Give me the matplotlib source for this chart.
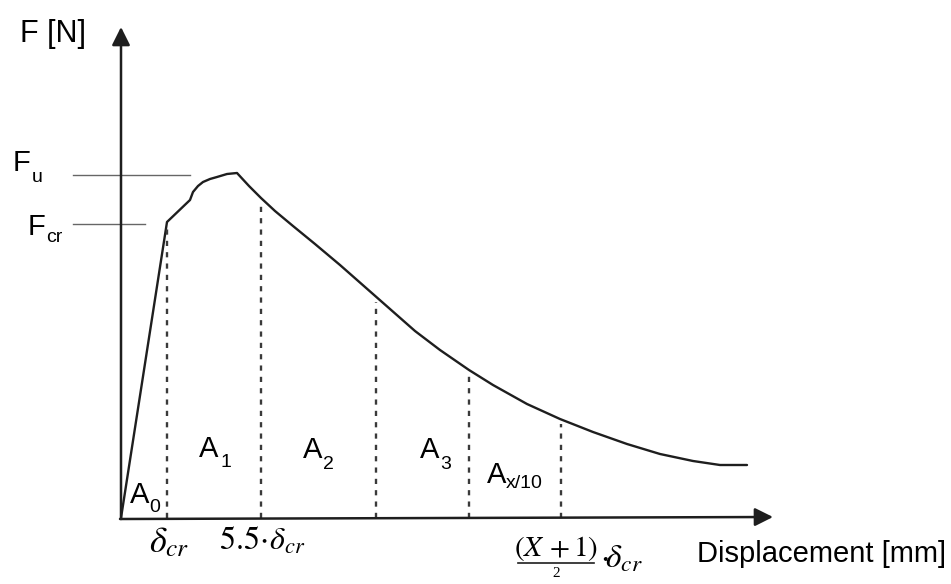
import matplotlib
matplotlib.use("Agg")
import matplotlib.pyplot as plt

plt.rcParams["mathtext.fontset"] = "stix"

# Load-displacement curve (schematic units)
disp = [0, 46, 69, 72, 77, 82, 89, 96, 106, 116, 128, 140, 154, 172, 194,
        219, 244, 269, 294, 319, 348, 372, 406, 439, 472, 506, 539, 572,
        599, 626]
force = [0, 296, 318, 326, 332, 336, 339, 341, 344, 345, 332, 320, 307, 292,
         274, 253, 231, 209, 187, 168, 148, 133, 114, 99, 86, 74, 64, 57,
         53, 53]

# Boundaries of the energy intervals
boundary_x = [46, 140, 255, 348, 440]
boundary_top = [296, 320, 221, 148, 99]

# Reference force levels
F_u = 343
F_cr = 294

# Interval labels: main letter, subscript
area_main = ["A", "A", "A", "A", "A"]
area_sub = ["0", "1", "2", "3", "x/10"]
area_x = [9, 78, 182, 299, 366]
area_y = [15, 61, 60, 60, 35]
sub_dx = [19, 21, 20, 20, 19]
sub_dy = [-9, -10, -11, -11, -5]

SANS = "Liberation Sans"
INK = "#1e1e1e"

fig = plt.figure(figsize=(9.51, 5.84), dpi=100)
ax = fig.add_axes([0, 0, 1, 1])
ax.set_xlim(-121, 830)
ax.set_ylim(-66, 518)
ax.axis("off")

# Axes with arrowheads
arrow = dict(arrowstyle="-|>,head_length=1.1,head_width=0.55",
             color=INK, lw=1.8, shrinkA=0, shrinkB=0)
ax.annotate("", xy=(0, 491), xytext=(0, -1), arrowprops=arrow)
ax.annotate("", xy=(652, 1), xytext=(-1, -1), arrowprops=arrow)

# Force level markers
ax.plot([-48, 69], [F_u, F_u], color="#666666", lw=1.0)
ax.plot([-48, 24], [F_cr, F_cr], color="#666666", lw=1.0)

# Curve
ax.plot(disp, force, color=INK, lw=1.7, solid_joinstyle="round",
        solid_capstyle="round")

# Interval boundaries
for bx, bt in zip(boundary_x, boundary_top):
    ax.plot([bx, bx], [0, bt - 5], color="#3a3a3a", lw=1.7,
            linestyle=(0, (2.2, 2.6)))

# Axis titles and force levels
ax.text(-101, 476, "F [N]", fontsize=22, family=SANS, va="baseline")
ax.text(-108, 347, "F", fontsize=21, family=SANS, va="baseline")
ax.text(-89, 336, "u", fontsize=14, family=SANS, va="baseline")
ax.text(-93, 283, "F", fontsize=21, family=SANS, va="baseline")
ax.text(-75, 276, "cr", fontsize=14, family=SANS, va="baseline")
ax.text(576, -44, "Displacement [mm]", fontsize=21, family=SANS,
        va="baseline")

# Interval labels
for m, s, x, y, dx, dy in zip(area_main, area_sub, area_x, area_y,
                              sub_dx, sub_dy):
    ax.text(x, y, m, fontsize=21, family=SANS, va="baseline")
    ax.text(x + dx, y + dy, s, fontsize=14, family=SANS, va="baseline")

# Displacement marks
ax.text(48, -34, "$\\delta_{cr}$", fontsize=26, ha="center", va="baseline")
ax.text(141, -32, "$5.5\\!\\cdot\\!\\delta_{cr}$", fontsize=23, ha="center",
        va="baseline")
ax.text(435, -38, "$(X\\,+1)$", fontsize=21, ha="center", va="baseline")
ax.plot([397, 473], [-45, -45], color=INK, lw=1.2)
ax.text(435, -59, "2", fontsize=11, family="Liberation Serif", ha="center",
        va="baseline")
ax.text(479, -50, "$\\cdot\\!\\delta_{cr}$", fontsize=24, ha="left",
        va="baseline")

fig.savefig("out.png", dpi=100)
